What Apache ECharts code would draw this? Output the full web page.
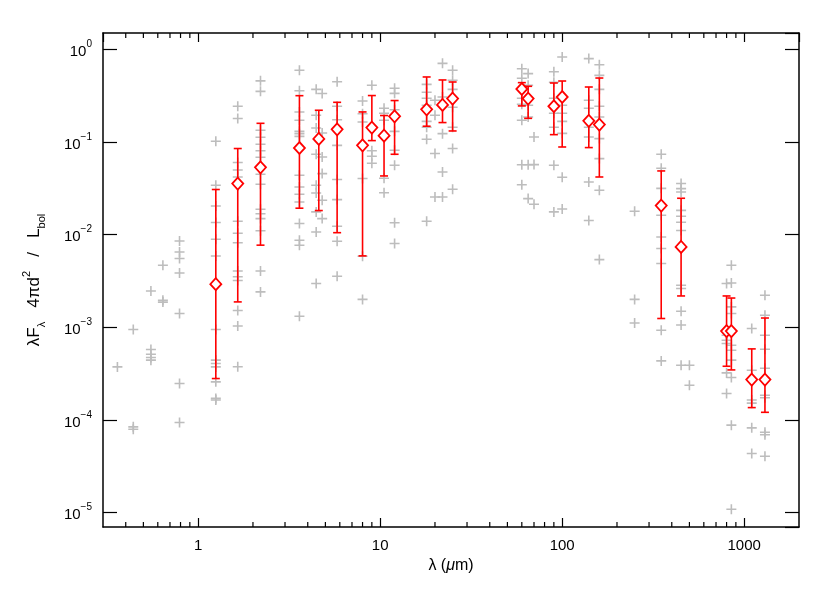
<!DOCTYPE html>
<html>
<head>
<meta charset="utf-8">
<script src="https://cdn.jsdelivr.net/npm/echarts@6/dist/echarts.min.js"></script>
<style>html,body{margin:0;padding:0;background:#fff}#c{width:830px;height:593px}</style>
</head>
<body>
<div id="c"></div>
<script>
// ---- data ----
const xMin = 0.3, xMax = 2000, yMin = 7e-6, yMax = 1.5;

// red median points with error bars
const redWave = [1.25, 1.65, 2.2, 3.6, 4.6, 5.8, 8.0, 9.0, 10.5, 12, 18, 22, 25, 60, 65, 90, 100, 140, 160, 350, 450, 800, 850, 1100, 1300];
const redFlux = [2.92e-3, 0.0356, 0.0533, 0.0861, 0.108, 0.137, 0.092, 0.143, 0.117, 0.189, 0.225, 0.251, 0.294, 0.373, 0.294, 0.243, 0.306, 0.169, 0.154, 0.0206, 7.37e-3, 9.1e-4, 9.1e-4, 2.73e-4, 2.73e-4];
const redLow  = [2.8e-4, 1.88e-3, 7.7e-3, 0.0193, 0.0182, 0.0105, 5.9e-3, 0.1035, 0.043, 0.0737, 0.148, 0.162, 0.1315, 0.245, 0.180, 0.120, 0.0883, 0.087, 0.0419, 1.245e-3, 2.18e-3, 3.8e-4, 3.47e-4, 1.36e-4, 1.21e-4];
const redHigh = [0.0307, 0.085, 0.159, 0.316, 0.22, 0.268, 0.211, 0.317, 0.193, 0.280, 0.503, 0.467, 0.444, 0.437, 0.399, 0.433, 0.455, 0.392, 0.49, 0.0487, 0.0247, 2.18e-3, 2.07e-3, 5.85e-4, 1.26e-3];

// individual sources (grey crosses), grouped by wavelength
const grayWave = [0.36, 0.44, 0.55, 0.64, 0.79, 1.25, 1.65, 2.2, 3.6, 4.45, 4.8, 5.8, 8.0, 9.0, 10.5, 12, 18, 20, 22, 25, 60, 65, 70, 90, 100, 140, 160, 250, 350, 450, 500, 800, 850, 1100, 1300];
const grayFlux = [
  [3.74e-4],
  [9.46e-4, 8.43e-5, 7.95e-5],
  [2.47e-3, 5.76e-4, 5.13e-4, 4.72e-4, 4.42e-4],
  [4.68e-3, 1.96e-3, 1.87e-3],
  [8.55e-3, 6.5e-3, 5.52e-3, 3.86e-3, 1.41e-3, 2.48e-4, 9.4e-5],
  [0.102, 0.0341, 0.0204, 0.0135, 8.91e-3, 5.89e-3, 9.46e-4, 4.42e-4, 4.07e-4, 3.74e-4, 2.58e-4, 1.71e-4, 1.64e-4],
  [0.243, 0.179, 0.060, 0.0499, 0.0419, 0.01395, 0.01035, 8.18e-3, 4.06e-3, 3.51e-3, 3.2e-3, 1.52e-3, 1.035e-3, 3.76e-4],
  [0.457, 0.352, 0.134, 0.1124, 0.0944, 0.0804, 0.0684, 0.0449, 0.035, 0.0188, 0.0168, 0.0149, 0.011, 4.06e-3, 2.41e-3],
  [0.594, 0.357, 0.211, 0.1714, 0.1303, 0.123, 0.115, 0.0437, 0.0327, 0.0273, 0.02254, 0.0132, 8.7e-3, 7.69e-3, 1.318e-3],
  [0.370, 0.194, 0.1416, 0.0737, 0.0341, 0.0282, 0.0176, 0.0107, 2.97e-3],
  [0.333, 0.125, 0.0689, 0.0456, 0.0235, 0.0149],
  [0.446, 0.243, 0.1735, 0.092, 0.0393, 0.0239, 0.0123, 8.49e-3, 3.56e-3],
  [0.277, 0.202, 0.164, 0.0403, 5.85e-3, 2.0e-3],
  [0.409, 0.0804, 0.0701, 0.0589],
  [0.231, 0.204, 0.1714, 0.0406, 0.0283],
  [0.38, 0.335, 0.2225, 0.1303, 0.0813, 0.0561, 0.01343, 8.02e-3],
  [0.419, 0.344, 0.296, 0.249, 0.167, 0.144, 0.107, 0.01395],
  [0.282, 0.194, 0.075, 0.0255],
  [0.706, 0.306, 0.123, 0.0475, 0.0255],
  [0.594, 0.463, 0.370, 0.237, 0.144, 0.0849, 0.0309],
  [0.616, 0.487, 0.296, 0.255, 0.1714, 0.0568, 0.0345],
  [0.547, 0.409, 0.249, 0.186, 0.0568, 0.0245],
  [0.1132, 0.057, 0.0213],
  [0.572, 0.441, 0.296, 0.204, 0.144, 0.0561, 0.0176],
  [0.826, 0.249, 0.204, 0.167, 0.124, 0.0416, 0.0189],
  [0.794, 0.282, 0.231, 0.144, 0.113, 0.037, 0.0142],
  [0.681, 0.524, 0.37, 0.243, 0.186, 0.1088, 0.0662, 0.0301, 5.38e-3],
  [0.0179, 2.0e-3, 1.115e-3],
  [0.0737, 0.052, 0.0316, 0.0162, 9.44e-3, 7.08e-3, 4.88e-3, 9.3e-4, 4.34e-4],
  [0.0356, 0.0314, 0.0289, 0.0183, 0.0158, 0.0136, 0.0111, 2.84e-3, 2.62e-3, 1.49e-3, 1.06e-3, 3.9e-4],
  [3.9e-4, 2.37e-4],
  [2.97e-3, 8.22e-4, 7.26e-4, 6.69e-4, 3.22e-4, 1.93e-4],
  [4.68e-3, 3.01e-3, 1.66e-3, 1.41e-3, 6.41e-4, 5.66e-4, 4.42e-4, 2.87e-4, 8.79e-5, 1.09e-5],
  [9.7e-4, 3.44e-4, 1.64e-4, 1.52e-4, 8.22e-5, 4.35e-5],
  [2.22e-3, 1.35e-3, 8.22e-4, 5.8e-4, 3.62e-4, 1.85e-4, 1.74e-4, 7.38e-5, 6.94e-5, 4.06e-5]
];

// x-axis minor tick positions (2..9 per decade)
const xMinorTicks = [0.4, 0.5, 0.6, 0.7, 0.8, 0.9, 2, 3, 4, 5, 6, 7, 8, 9, 20, 30, 40, 50, 60, 70, 80, 90, 200, 300, 400, 500, 600, 700, 800, 900];

// ---- build ----
const FONT = 'Liberation Sans';
const grayData = [];
grayWave.forEach((w, i) => grayFlux[i].forEach(f => grayData.push([w, f])));
const redData = redWave.map((w, i) => [w, redFlux[i]]);
const errData = redWave.map((w, i) => [w, redLow[i], redHigh[i]]);
const minorData = xMinorTicks.map(v => [v, 1e-2]);

function isPow10(v) { const l = Math.log10(v); return Math.abs(l - Math.round(l)) < 1e-6; }
function xFmt(v) { return isPow10(v) ? String(Math.round(v)) : ''; }
function yFmt(v) {
  if (!isPow10(v)) return '';
  const e = Math.round(Math.log10(v));
  return '{b|10}{s|' + (e < 0 ? '\u2212' + (-e) : e) + '}';
}
const axisLine = { show: true, onZero: false, lineStyle: { color: '#000', width: 1.5 } };
const RED = '#ff0000';

const chart = echarts.init(document.getElementById('c'), null, { renderer: 'canvas' });
chart.setOption({
  animation: false,
  backgroundColor: '#fff',
  grid: { left: 103, right: 31, top: 33, bottom: 66, containLabel: false },
  xAxis: [
    { type: 'log', logBase: 10, min: xMin, max: xMax, position: 'bottom',
      axisLine, splitLine: { show: false },
      axisTick: { show: true, inside: true, length: 9, lineStyle: { color: '#000', width: 1.2 } },
      axisLabel: { formatter: xFmt, fontFamily: FONT, fontSize: 15, color: '#000', margin: 11, showMinLabel: false, showMaxLabel: false },
      name: '{n|\u03bb (}{i|\u03bc}{n|m)}', nameLocation: 'middle', nameGap: 30,
      nameTextStyle: { rich: { n: { fontFamily: FONT, fontSize: 16, color: '#000' }, i: { fontFamily: FONT, fontSize: 16, fontStyle: 'italic', color: '#000' } } }
    },
    { type: 'log', logBase: 10, min: xMin, max: xMax, position: 'top',
      axisLine, splitLine: { show: false },
      axisTick: { show: true, inside: true, length: 9, lineStyle: { color: '#000', width: 1.2 } },
      axisLabel: { show: false }
    }
  ],
  yAxis: [
    { type: 'log', logBase: 10, min: yMin, max: yMax, position: 'left',
      axisLine, splitLine: { show: false },
      axisTick: { show: true, inside: true, length: 14, lineStyle: { color: '#000', width: 1.2 } },
      axisLabel: { formatter: yFmt, margin: 11, showMinLabel: false, showMaxLabel: false,
        rich: { b: { fontFamily: FONT, fontSize: 15, color: '#000', lineHeight: 20, verticalAlign: 'bottom' },
                s: { fontFamily: FONT, fontSize: 10, color: '#000', lineHeight: 12, verticalAlign: 'top' } } },
      name: '{n|\u03bbF}{sub|\u03bb}{n|   4\u03c0d}{sup|2}{n|   /   L}{sub|bol}', nameLocation: 'middle', nameGap: 56, nameRotate: 90,
      nameTextStyle: { rich: {
        n: { fontFamily: FONT, fontSize: 17, color: '#000', lineHeight: 26, verticalAlign: 'middle' },
        sub: { fontFamily: FONT, fontSize: 11, color: '#000', lineHeight: 11, verticalAlign: 'bottom' },
        sup: { fontFamily: FONT, fontSize: 11, color: '#000', lineHeight: 11, verticalAlign: 'top' } } }
    },
    { type: 'log', logBase: 10, min: yMin, max: yMax, position: 'right',
      axisLine, splitLine: { show: false },
      axisTick: { show: true, inside: true, length: 14, lineStyle: { color: '#000', width: 1.2 } },
      axisLabel: { show: false }
    }
  ],
  series: [
    { type: 'custom', silent: true, clip: false, z: 1,
      data: minorData,
      renderItem(params, api) {
        const px = api.coord([api.value(0), api.value(1)])[0];
        const cs = params.coordSys;
        const st = { stroke: '#000', lineWidth: 1.2 };
        return { type: 'group', children: [
          { type: 'line', shape: { x1: px, y1: cs.y + cs.height, x2: px, y2: cs.y + cs.height - 5 }, style: st },
          { type: 'line', shape: { x1: px, y1: cs.y, x2: px, y2: cs.y + 5 }, style: st }
        ] };
      }
    },
    { type: 'scatter', data: grayData, z: 2, silent: true,
      symbol: 'path://M0,4.2H10V5.8H0Z M4.2,0H5.8V10H4.2Z', symbolSize: 10,
      itemStyle: { color: '#bdbdbd', opacity: 1 }
    },
    { type: 'custom', z: 3, silent: true,
      data: errData,
      encode: { x: 0, y: [1, 2] },
      renderItem(params, api) {
        const w = api.value(0);
        const lo = api.coord([w, api.value(1)]);
        const hi = api.coord([w, api.value(2)]);
        const cap = 4;
        const st = { stroke: RED, lineWidth: 1.6 };
        return { type: 'group', children: [
          { type: 'line', shape: { x1: lo[0], y1: lo[1], x2: hi[0], y2: hi[1] }, style: st },
          { type: 'line', shape: { x1: lo[0] - cap, y1: lo[1], x2: lo[0] + cap, y2: lo[1] }, style: st },
          { type: 'line', shape: { x1: hi[0] - cap, y1: hi[1], x2: hi[0] + cap, y2: hi[1] }, style: st }
        ] };
      }
    },
    { type: 'scatter', data: redData, z: 4, silent: true,
      symbol: 'diamond', symbolSize: [11, 12],
      itemStyle: { color: '#fff', borderColor: RED, borderWidth: 1.8, opacity: 1 }
    }
  ]
});
</script>
</body>
</html>
